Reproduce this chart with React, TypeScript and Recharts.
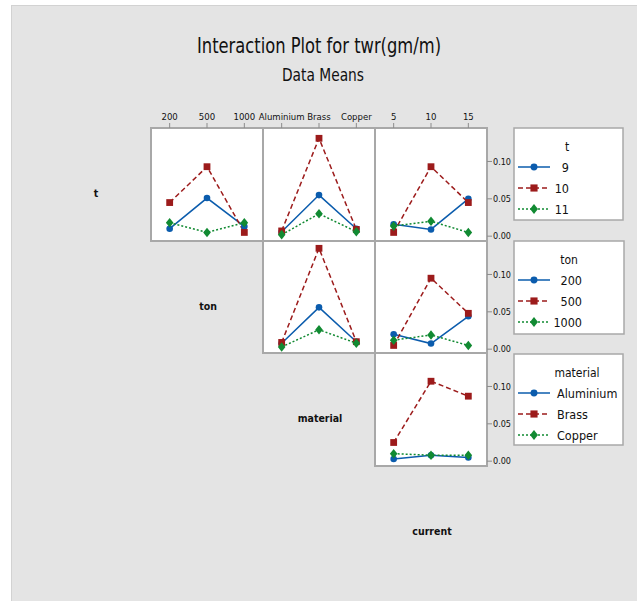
import React from 'react';
import { LineChart, Line, XAxis, YAxis } from 'recharts';

const FONT = '"DejaVu Sans Condensed", "Liberation Sans Narrow", "Roboto Condensed", "Liberation Sans", sans-serif';

// ---------- factor levels ----------
const tLevels = ['9', '10', '11'];
const tonLevels = ['200', '500', '1000'];
const materialLevels = ['Aluminium', 'Brass', 'Copper'];
const currentLevels = ['5', '10', '15'];

// ---------- data means of twr(gm/m) ----------
// t (trace) vs ton (x)
const t9_ton = [0.010, 0.051, 0.013];
const t10_ton = [0.045, 0.093, 0.005];
const t11_ton = [0.018, 0.005, 0.018];
// t vs material
const t9_material = [0.006, 0.055, 0.010];
const t10_material = [0.007, 0.131, 0.009];
const t11_material = [0.002, 0.030, 0.006];
// t vs current
const t9_current = [0.016, 0.009, 0.050];
const t10_current = [0.005, 0.093, 0.045];
const t11_current = [0.0135, 0.020, 0.005];
// ton vs material
const ton200_material = [0.008, 0.056, 0.010];
const ton500_material = [0.009, 0.135, 0.010];
const ton1000_material = [0.003, 0.026, 0.008];
// ton vs current
const ton200_current = [0.020, 0.0075, 0.044];
const ton500_current = [0.005, 0.095, 0.048];
const ton1000_current = [0.012, 0.019, 0.005];
// material vs current
const aluminium_current = [0.003, 0.008, 0.005];
const brass_current = [0.025, 0.107, 0.087];
const copper_current = [0.010, 0.008, 0.008];

const yTicks = [0, 0.05, 0.1];
const YMIN = -0.0058;
const YMAX = 0.1448;

const COLORS = ['#0b5cad', '#9c1b1b', '#118a32'];
const DASHES: (string | undefined)[] = [undefined, '5 3', '2 2'];

// ---------- layout ----------
const COLX = [39, 151, 263, 375, 487];
const ROWY = [128, 240.5, 353, 465.5];
const PW = 112;
const PH = 112.5;

function drawMarker(kind: number, cx: number, cy: number, color: string, scale = 1, key?: any) {
  if (cx == null || cy == null) return <g key={key} />;
  if (kind === 0) return <circle key={key} cx={cx} cy={cy} r={3.3 * scale} fill={color} />;
  if (kind === 1) {
    const s = 3.4 * scale;
    return <rect key={key} x={cx - s} y={cy - s} width={2 * s} height={2 * s} fill={color} />;
  }
  const w = 3.8 * scale;
  const h = 4.8 * scale;
  return <polygon key={key} points={`${cx},${cy - h} ${cx + w},${cy} ${cx},${cy + h} ${cx - w},${cy}`} fill={color} />;
}

type PanelDef = { col: number; row: number; xLabels: string[]; series: number[][] };

const panels: PanelDef[] = [
  { col: 1, row: 0, xLabels: tonLevels, series: [t9_ton, t10_ton, t11_ton] },
  { col: 2, row: 0, xLabels: materialLevels, series: [t9_material, t10_material, t11_material] },
  { col: 3, row: 0, xLabels: currentLevels, series: [t9_current, t10_current, t11_current] },
  { col: 2, row: 1, xLabels: materialLevels, series: [ton200_material, ton500_material, ton1000_material] },
  { col: 3, row: 1, xLabels: currentLevels, series: [ton200_current, ton500_current, ton1000_current] },
  { col: 3, row: 2, xLabels: currentLevels, series: [aluminium_current, brass_current, copper_current] },
];

function PanelChart({ p }: { p: PanelDef }) {
  const showTop = p.row === 0;
  const showRight = p.col === 3;
  const topH = showTop ? 26 : 0;
  const rightW = showRight ? 40 : 0;
  const data = p.xLabels.map((lab, i) => {
    const d: any = { idx: i + 1, label: lab };
    p.series.forEach((s, k) => {
      d['s' + k] = s[i];
    });
    return d;
  });
  return (
    <div style={{ position: 'absolute', left: COLX[p.col], top: ROWY[p.row] - topH }}>
      <LineChart width={PW + rightW} height={PH + topH} data={data} margin={{ top: 0, right: 0, bottom: 0, left: 0 }} style={{ overflow: 'visible' }}>
        <XAxis
          type="number"
          dataKey="idx"
          domain={[0.5, 3.5]}
          ticks={[1, 2, 3]}
          orientation="top"
          hide={!showTop}
          height={topH || 1}
          interval={0}
          tickFormatter={(v: number) => p.xLabels[v - 1]}
          axisLine={false}
          tickLine={{ stroke: '#8c8c8c' }}
          tickSize={5}
          tickMargin={3}
          tick={{ fontSize: 9.5, fill: '#111', fontFamily: FONT }}
        />
        <YAxis
          type="number"
          domain={[YMIN, YMAX]}
          ticks={yTicks}
          orientation="right"
          hide={!showRight}
          width={rightW || 1}
          interval={0}
          tickFormatter={(v: number) => v.toFixed(2)}
          axisLine={false}
          tickLine={{ stroke: '#8c8c8c' }}
          tickSize={5}
          tickMargin={1}
          tick={{ fontSize: 9, fill: '#111', fontFamily: FONT }}
        />
        {p.series.map((_, k) => (
          <Line
            key={k}
            type="linear"
            dataKey={'s' + k}
            stroke={COLORS[k]}
            strokeWidth={1.5}
            strokeDasharray={DASHES[k]}
            dot={(props: any) => drawMarker(k, props.cx, props.cy, COLORS[k], 1, 'd' + k + '-' + props.index)}
            activeDot={false}
            isAnimationActive={false}
          />
        ))}
      </LineChart>
    </div>
  );
}

type LegendDef = {
  x: number; y: number; w: number; h: number;
  title: string; titleX: number; labels: string[]; labelX: number; anchor: 'start' | 'end';
};

const legends: LegendDef[] = [
  { x: 514, y: 128, w: 109, h: 92, title: 't', titleX: 567, labels: tLevels, labelX: 569, anchor: 'end' },
  { x: 514, y: 241, w: 110, h: 93, title: 'ton', titleX: 569, labels: tonLevels, labelX: 582, anchor: 'end' },
  { x: 514, y: 354, w: 109, h: 91, title: 'material', titleX: 577, labels: materialLevels, labelX: 557, anchor: 'start' },
];

const diagLabels = ['t', 'ton', 'material', 'current'];

export default function App() {
  return (
    <div style={{ position: 'absolute', left: 0, top: 0, width: 637, height: 601, background: '#fff', overflow: 'hidden' }}>
      <style>{`.recharts-surface{overflow:visible}`}</style>
      <div style={{ position: 'absolute', left: 11, top: 5, width: 626, height: 596, background: '#e4e4e4', boxSizing: 'border-box', borderLeft: '1px solid #d2d2d2', borderTop: '1px solid #d2d2d2' }} />
      {panels.map((p, i) => (
        <div key={'bg' + i} style={{ position: 'absolute', left: COLX[p.col] - 1, top: ROWY[p.row] - 1, width: PW + 2, height: PH + 2, boxSizing: 'border-box', border: '2px solid #a8a8a8', background: '#fff' }} />
      ))}
      <svg width={637} height={601} style={{ position: 'absolute', left: 0, top: 0 }}>
        <text x={319} y={53} textAnchor="middle" fontFamily={FONT} fontSize={22} fill="#111" textLength={244} lengthAdjust="spacingAndGlyphs">Interaction Plot for twr(gm/m)</text>
        <text x={323} y={81} textAnchor="middle" fontFamily={FONT} fontSize={17} fill="#111" textLength={82} lengthAdjust="spacingAndGlyphs">Data Means</text>
        {diagLabels.map((lab, i) => (
          <text key={lab} x={(COLX[i] + PW / 2) + 1} y={ROWY[i] + PH / 2 + 9} textAnchor="middle" dominantBaseline="central" fontFamily={FONT} fontSize={10.5} fontWeight={600} fill="#111">{lab}</text>
        ))}
        {legends.map((L, li) => (
          <g key={'lg' + li}>
            <rect x={L.x} y={L.y} width={L.w} height={L.h} fill="#fff" stroke="#a8a8a8" strokeWidth={1.5} />
            <text x={L.titleX} y={L.y + 19} textAnchor="middle" dominantBaseline="central" fontFamily={FONT} fontSize={12} fill="#111">{L.title}</text>
            {L.labels.map((lab, k) => {
              const yy = L.y + 39 + k * 21;
              return (
                <g key={lab}>
                  <line x1={518} x2={550} y1={yy} y2={yy} stroke={COLORS[k]} strokeWidth={1.5} strokeDasharray={DASHES[k]} />
                  {drawMarker(k, 534, yy, COLORS[k], 1.05)}
                  <text x={L.labelX} y={yy} textAnchor={L.anchor} dominantBaseline="central" fontFamily={FONT} fontSize={12.5} fill="#111">{lab}</text>
                </g>
              );
            })}
          </g>
        ))}
      </svg>
      {panels.map((p, i) => (
        <PanelChart key={'pc' + i} p={p} />
      ))}
    </div>
  );
}
